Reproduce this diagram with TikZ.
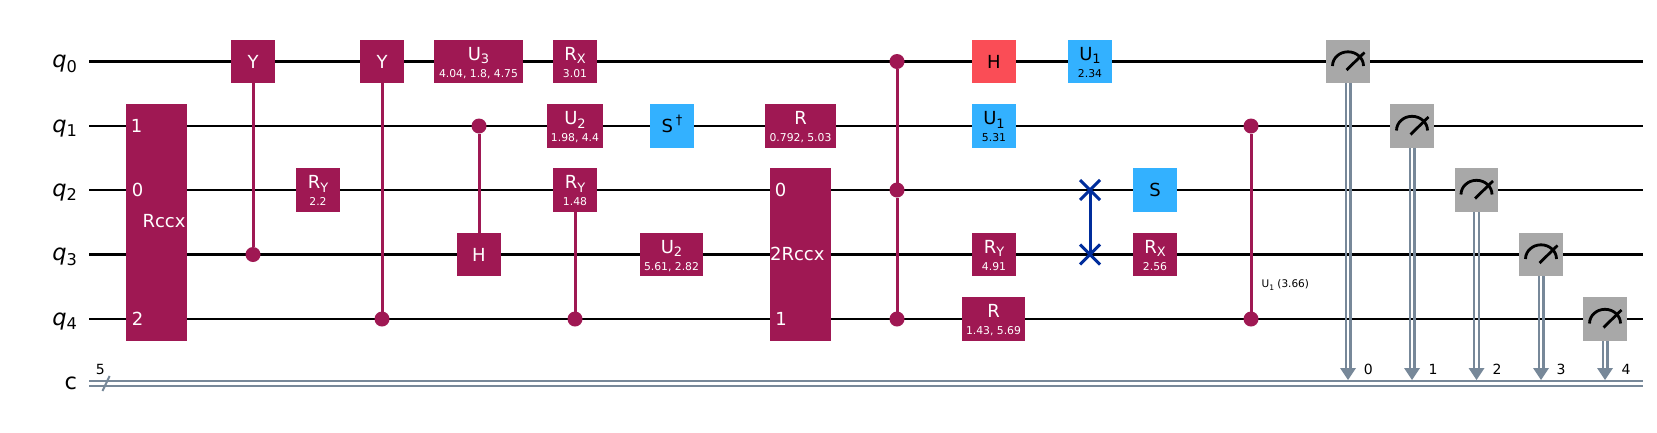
\documentclass[tikz,border=0pt]{standalone}
\usepackage{graphicx}
\usepackage{fontspec}
\setmainfont{DejaVu Sans}
\definecolor{gpurple}{HTML}{9F1853}
\definecolor{gblue}{HTML}{33B1FF}
\definecolor{gred}{HTML}{FA4D56}
\definecolor{ggray}{HTML}{A8A8A8}
\definecolor{gclass}{HTML}{778899}
\definecolor{gswap}{HTML}{002D9C}
\newcommand\sbs[1]{\raisebox{-.22em}{\scalebox{.72}{#1}}}
\newcommand\sps[1]{\raisebox{.42em}{\scalebox{.72}{#1}}}
\def\ya{61.5}\def\yb{126}\def\yc{190}\def\yd{254.5}\def\ye{319}
\tikzset{
  gatebox/.style={rectangle,inner sep=0pt,outer sep=0pt,draw=none},
  big/.style={inner sep=0pt,outer sep=0pt,anchor=base,font=\fontsize{18}{18}\selectfont},
  small/.style={inner sep=0pt,outer sep=0pt,anchor=base,font=\fontsize{10.8}{10.8}\selectfont},
  wirelabel/.style={inner sep=0pt,outer sep=0pt,anchor=base east,text=black,font=\fontsize{22.5}{22.5}\selectfont},
  bitlabel/.style={inner sep=0pt,outer sep=0pt,anchor=base,text=black,font=\fontsize{14}{14}\selectfont},
  qwire/.style={line width=2.8pt,black},
  cwire/.style={line width=2.2pt,gclass},
  ctrl/.style={circle,fill=gpurple,inner sep=0pt,outer sep=0pt,minimum size=15pt},
  ctrlline/.style={line width=3pt,gpurple},
  swapmark/.style={inner sep=0pt,outer sep=0pt,minimum size=0pt},
  swapline/.style={line width=3pt,gswap},
  meterline/.style={line width=2.8pt,black,line cap=butt},
}
% fill, text colour, name, x1, x2, y, label
\newcommand\gate[7]{%
  \node[gatebox,fill=#1,minimum width={(#5-#4)*1pt},minimum height=43.5pt] (#3) at ({(#4+#5)/2},#6) {};
  \node[big,text=#2] (#3t) at ([yshift=-6.5pt]#3.center) {#7};
}
% fill, text colour, name, x1, x2, y, label, parameter
\newcommand\pgate[8]{%
  \node[gatebox,fill=#1,minimum width={(#5-#4)*1pt},minimum height=43.5pt] (#3) at ({(#4+#5)/2},#6) {};
  \node[big,text=#2] (#3t) at ([yshift=1.5pt]#3.center) {#7};
  \node[small,text=#2] (#3p) at ([yshift=-15.8pt]#3.center) {#8};
}
\begin{document}
\begin{tikzpicture}[x=1pt,y=-1pt]
\useasboundingbox (0,0) rectangle (1657,432);
\fill[white] (0,0) rectangle (1657,432);
% wires
\foreach \n/\y in {0/\ya,1/\yb,2/\yc,3/\yd,4/\ye}{
  \coordinate (w\n s) at (89,\y);
  \coordinate (w\n e) at (1643,\y);
  \draw[qwire] (w\n s) -- (w\n e);
}
\coordinate (cas) at (89,381.3);\coordinate (cae) at (1643,381.3);
\coordinate (cbs) at (89,385.7);\coordinate (cbe) at (1643,385.7);
\draw[cwire] (cas) -- (cae);
\draw[cwire] (cbs) -- (cbe);
\coordinate (sla) at (102.5,391);\coordinate (slb) at (109.6,376);
\draw[line width=2pt,gclass] (sla) -- (slb);
% wire labels
\node[wirelabel] (lq0) at (77,\ya+6) {\textit{q}\sbs{0}};
\node[wirelabel] (lq1) at (77,\yb+6) {\textit{q}\sbs{1}};
\node[wirelabel] (lq2) at (77,\yc+6) {\textit{q}\sbs{2}};
\node[wirelabel] (lq3) at (77,\yd+6) {\textit{q}\sbs{3}};
\node[wirelabel] (lq4) at (77,\ye+6) {\textit{q}\sbs{4}};
\node[wirelabel] (lc) at (77,389) {c};
\node[bitlabel] (l5) at (100.4,374) {5};
% Rccx 1
\node[gatebox,fill=gpurple,minimum width=61pt,minimum height=237.5pt] (rccxa) at (156.5,222.5) {};
\node[big,text=white] (rccxat) at (164,227.5) {Rccx};
\node[big,text=white] (rccxa1) at (136.5,\yb+6) {1};
\node[big,text=white] (rccxa0) at (137.5,\yc+6) {0};
\node[big,text=white] (rccxa2) at (137.5,\ye+6) {2};
% controls
\node[ctrl] (c1) at (253,\yd) {};
\node[ctrl] (c2) at (382,\ye) {};
\node[ctrl] (c3) at (479,\yb) {};
\node[ctrl] (c4) at (575,\ye) {};
\node[ctrl] (c5a) at (897,\ya) {};
\node[ctrl] (c5b) at (897,\yc) {};
\node[ctrl] (c5c) at (897,\ye) {};
\node[ctrl] (c6a) at (1251,\yb) {};
\node[ctrl] (c6b) at (1251,\ye) {};
% gates
\gate{gpurple}{white}{y1}{231}{275}{\ya}{Y}
\pgate{gpurple}{white}{ry1}{296}{340}{\yc}{R\sbs{Y}}{2.2}
\gate{gpurple}{white}{y2}{360}{404}{\ya}{Y}
\pgate{gpurple}{white}{u3}{434}{523}{\ya}{U\sbs{3}}{4.04, 1.8, 4.75}
\gate{gpurple}{white}{h1}{457}{501}{\yd}{H}
\pgate{gpurple}{white}{rx1}{553}{597}{\ya}{R\sbs{X}}{3.01}
\pgate{gpurple}{white}{u2a}{547}{603}{\yb}{U\sbs{2}}{1.98, 4.4}
\pgate{gpurple}{white}{ry2}{553}{597}{\yc}{R\sbs{Y}}{1.48}
\gate{gblue}{black}{sdg}{650}{694}{\yb}{S\,\sps{†}}
\pgate{gpurple}{white}{u2b}{640}{703}{\yd}{U\sbs{2}}{5.61, 2.82}
\pgate{gpurple}{white}{r1}{765}{836}{\yb}{R}{0.792, 5.03}
\gate{gred}{black}{h2}{972}{1016}{\ya}{H}
\pgate{gblue}{black}{u1a}{972}{1016}{\yb}{U\sbs{1}}{5.31}
\pgate{gpurple}{white}{ry3}{972}{1016}{\yd}{R\sbs{Y}}{4.91}
\pgate{gpurple}{white}{r2}{962}{1025}{\ye}{R}{1.43, 5.69}
\pgate{gblue}{black}{u1b}{1068}{1112}{\ya}{U\sbs{1}}{2.34}
\gate{gblue}{black}{s1}{1133}{1177}{\yc}{S}
\pgate{gpurple}{white}{rx2}{1133}{1177}{\yd}{R\sbs{X}}{2.56}
% Rccx 2
\node[gatebox,fill=gpurple,minimum width=61pt,minimum height=173pt] (rccxb) at (800.5,254.5) {};
\node[big,text=white] (rccxbt) at (803,\yd+6) {Rccx};
\node[big,text=white] (rccxb0) at (780.5,\yc+6) {0};
\node[big,text=white,anchor=base east] (rccxb2) at (rccxbt.base west) {2};
\node[big,text=white] (rccxb1) at (781,\ye+6) {1};
% control lines
\draw[ctrlline] (y1) -- (c1);
\draw[ctrlline] (y2) -- (c2);
\draw[ctrlline] (c3) -- (h1);
\draw[ctrlline] (ry2) -- (c4);
\draw[ctrlline] (c5a) -- (c5b);
\draw[ctrlline] (c5b) -- (c5c);
\draw[ctrlline] (c6a) -- (c6b);
\node[inner sep=0pt,outer sep=0pt,anchor=base west,text=black,font=\fontsize{10.5}{10.5}\selectfont] (u1lab) at (1261.6,287.7) {U\sbs{1} (3.66)};
% swap
\node[swapmark] (sw1) at (1090,\yc) {};
\node[swapmark] (sw2) at (1090,\yd) {};
\draw[swapline] (sw1) -- (sw2);
\foreach \s in {sw1,sw2}{
  \draw[swapline] ([xshift=-10pt,yshift=-10pt]\s.center) -- ([xshift=10pt,yshift=10pt]\s.center);
  \draw[swapline] ([xshift=-10pt,yshift=10pt]\s.center) -- ([xshift=10pt,yshift=-10pt]\s.center);
}
% measures
\newcommand\meterb[3]{%
  \coordinate (#1a) at (#2,380);
  \draw[cwire] ([xshift=-2.4pt]#2,{#3+21}) -- ([xshift=-2.4pt]#2,370);
  \draw[cwire] ([xshift=2.4pt]#2,{#3+21}) -- ([xshift=2.4pt]#2,370);
  \fill[gclass] (#1a) -- ++(-8,-12) -- ++(16,0) -- cycle;
  \node[gatebox,fill=ggray,minimum width=43.5pt,minimum height=43.5pt] (#1) at (#2,#3) {};
  \begin{scope}[shift={(#1.center)}]
    \draw[meterline] (-15.5,4.5) .. controls (-15.5,-3.4) and (-8.5,-9.7) .. (0,-9.7)
                     .. controls (8.5,-9.7) and (15.5,-3.4) .. (15.5,4.5);
    \draw[meterline] (-1.5,8.5) -- (16.5,-9);
  \end{scope}
}
\meterb{m0}{1348}{\ya}
\meterb{m1}{1412}{\yb}
\meterb{m2}{1476.5}{\yc}
\meterb{m3}{1541}{\yd}
\meterb{m4}{1605}{\ye}
\node[bitlabel] (b0) at (1368.4,374) {0};
\node[bitlabel] (b1) at (1433,374) {1};
\node[bitlabel] (b2) at (1497,374) {2};
\node[bitlabel] (b3) at (1561,374) {3};
\node[bitlabel] (b4) at (1626,374) {4};
\end{tikzpicture}
\end{document}
